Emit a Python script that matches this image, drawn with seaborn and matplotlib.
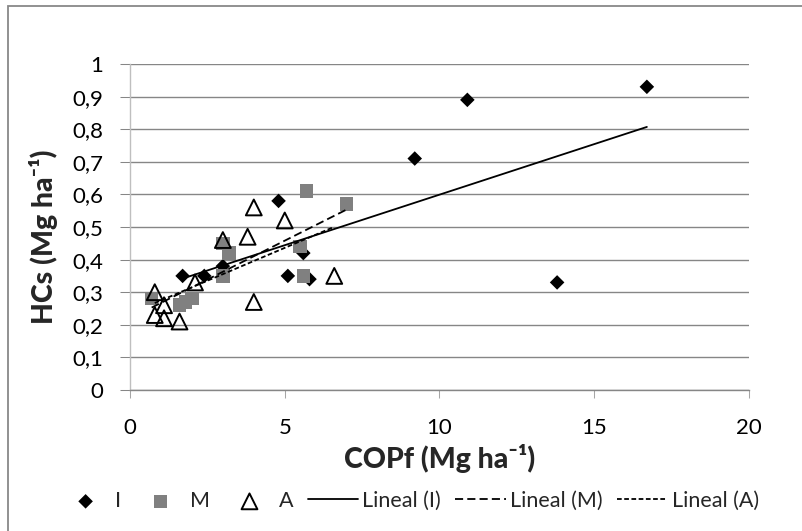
import matplotlib
matplotlib.use("Agg")
import matplotlib.pyplot as plt
import matplotlib.patches as mpatches
import seaborn as sns
import numpy as np
import pandas as pd

# ---- data ----
I_x = [16.7, 10.9, 13.8, 9.2, 4.8, 5.1, 5.8, 5.6, 1.7, 2.4, 3.0]
I_y = [0.93, 0.89, 0.33, 0.71, 0.58, 0.35, 0.34, 0.42, 0.35, 0.35, 0.38]
M_x = [5.7, 7.0, 5.5, 5.6, 3.2, 3.0, 3.0, 0.7, 1.6, 1.8, 2.0]
M_y = [0.61, 0.57, 0.44, 0.35, 0.42, 0.45, 0.35, 0.28, 0.26, 0.27, 0.28]
A_x = [0.8, 1.1, 0.8, 1.1, 1.6, 2.1, 3.0, 3.8, 4.0, 4.0, 5.0, 6.6]
A_y = [0.30, 0.26, 0.23, 0.22, 0.21, 0.33, 0.46, 0.47, 0.56, 0.27, 0.52, 0.35]

x_ticks = [0, 5, 10, 15, 20]
y_ticks = [0, 0.1, 0.2, 0.3, 0.4, 0.5, 0.6, 0.7, 0.8, 0.9, 1.0]
y_tick_labels = ["0", "0,1", "0,2", "0,3", "0,4", "0,5", "0,6", "0,7", "0,8", "0,9", "1"]
series_names = ["I", "M", "A"]
trend_names = ["Lineal (I)", "Lineal (M)", "Lineal (A)"]

sns.set_style("white")
plt.rcParams["font.family"] = ["Lato", "DejaVu Sans"]

W, H = 803, 531
fig = plt.figure(figsize=(W / 100, H / 100), dpi=100)
ax = fig.add_axes([130 / W, 1 - 390 / H, (749 - 130) / W, (390 - 64) / H])

grid_c = "#868686"

dfI = pd.DataFrame({"x": I_x, "y": I_y})
dfM = pd.DataFrame({"x": M_x, "y": M_y})
dfA = pd.DataFrame({"x": A_x, "y": A_y})

sns.scatterplot(data=dfI, x="x", y="y", marker="D", s=55, color="black",
                edgecolor="none", linewidth=0, ax=ax, label=series_names[0], zorder=3)
sns.scatterplot(data=dfM, x="x", y="y", marker="s", s=95, color="#808080",
                edgecolor="none", linewidth=0, ax=ax, label=series_names[1], zorder=3)
sns.scatterplot(data=dfA, x="x", y="y", marker="^", s=130, facecolor="none",
                edgecolor="black", linewidth=1.4, ax=ax, label=series_names[2], zorder=4)

sns.regplot(data=dfI, x="x", y="y", scatter=False, ci=None, truncate=True, ax=ax,
            label=trend_names[0], line_kws=dict(color="black", lw=1.3, zorder=5))
sns.regplot(data=dfM, x="x", y="y", scatter=False, ci=None, truncate=True, ax=ax,
            label=trend_names[1], line_kws=dict(color="black", lw=1.3, zorder=5,
                                                dashes=(4.5, 2.3)))
sns.regplot(data=dfA, x="x", y="y", scatter=False, ci=None, truncate=True, ax=ax,
            label=trend_names[2], line_kws=dict(color="black", lw=1.3, zorder=5,
                                                dashes=(2.6, 1.4)))

ax.set_xlim(0, 20)
ax.set_ylim(0, 1)
ax.set_xticks(x_ticks)
ax.set_xticklabels([str(t) for t in x_ticks])
ax.set_yticks(y_ticks)
ax.set_yticklabels(y_tick_labels)

ax.yaxis.grid(True, color=grid_c, lw=1.0)
ax.xaxis.grid(False)
ax.set_axisbelow(True)

for side in ["top", "right"]:
    ax.spines[side].set_visible(False)
ax.spines["left"].set_color("#bfbfbf")
ax.spines["left"].set_linewidth(1.0)
ax.spines["bottom"].set_color(grid_c)
ax.spines["bottom"].set_linewidth(1.0)

ax.tick_params(axis="y", which="major", direction="out", length=7.2, width=0.75,
               color=grid_c, pad=12, labelsize=16, labelcolor="black", left=True)
ax.tick_params(axis="x", which="major", direction="out", length=6, width=0.75,
               color="#a6a6a6", pad=14, labelsize=16, labelcolor="black", bottom=True)

ax.set_xlabel("COPf (Mg ha\u207b\u00b9)", fontsize=20.5, fontweight="black")
ax.set_ylabel("HCs (Mg ha\u207b\u00b9)", fontsize=20.5, fontweight="black")
ax.xaxis.set_label_coords(0.5, -0.165)
ax.yaxis.set_label_coords(-0.116, 0.47)

# legend
handles, labels = ax.get_legend_handles_labels()
order = series_names + trend_names
hmap = dict(zip(labels, handles))
leg = ax.legend([hmap[k] for k in order], order, loc="center",
                bbox_to_anchor=(0.51, 1 - 501 / H), bbox_transform=fig.transFigure,
                ncol=6, frameon=False, fontsize=15.5, handlelength=2.35,
                handletextpad=0.2, columnspacing=0.65, borderpad=0, borderaxespad=0)

# outer chart border
fig.patches.append(mpatches.Rectangle((8 / W, -0.05), 1.2, 1 - 6 / H + 0.05,
                                      transform=fig.transFigure, fill=False,
                                      edgecolor="#888888", lw=1.3))

fig.savefig("out.png", dpi=100)
